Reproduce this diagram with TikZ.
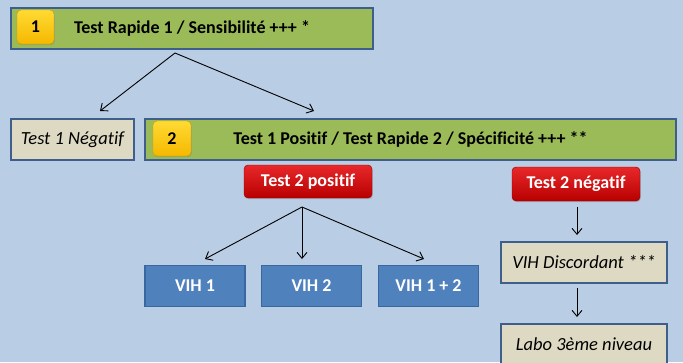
\documentclass[tikz,border=0pt]{standalone}
\usepackage{fontspec}
\setmainfont{Carlito}[RawFeature=-liga]
\usetikzlibrary{arrows.meta,shadows}
\definecolor{bgblue}{HTML}{B9CDE5}
\definecolor{boxgreen}{HTML}{9BBB59}
\definecolor{edgeblue}{HTML}{3E5F8C}
\definecolor{beige}{HTML}{DDD9C3}
\definecolor{vihblue}{HTML}{4F81BD}
\definecolor{vihedge}{HTML}{3A679E}
\definecolor{redtop}{HTML}{E8282A}
\definecolor{redbot}{HTML}{B80000}
\definecolor{yeltop}{HTML}{FFDA33}
\definecolor{yelbot}{HTML}{F5B800}
\tikzset{
  greenbox/.style={draw=edgeblue, line width=1.6pt, fill=boxgreen, font=\bfseries\fontsize{18}{20}\selectfont, inner sep=0pt},
  beigebox/.style={draw=edgeblue, line width=1.6pt, fill=beige, font=\itshape\fontsize{18.5}{20}\selectfont, inner sep=0pt},
  vihbox/.style={draw=vihedge, line width=1.2pt, fill=vihblue, text=white, font=\bfseries\fontsize{18}{20}\selectfont, inner sep=0pt, minimum width=100pt, minimum height=41pt},
  redbox/.style={rounded corners=4pt, top color=redtop, bottom color=redbot, draw=redbot!80!black, line width=0.4pt, text=white, font=\bfseries\fontsize{18}{20}\selectfont, inner sep=0pt, drop shadow={shadow xshift=0.8pt, shadow yshift=-1.2pt, opacity=0.35}},
  badge/.style={rounded corners=4pt, top color=yeltop, bottom color=yelbot, draw=yelbot!85!black, line width=0.4pt, font=\bfseries\fontsize{18}{20}\selectfont, inner sep=0pt, drop shadow={shadow xshift=0.8pt, shadow yshift=-1.2pt, opacity=0.35}},
  arr/.style={-{Straight Barb[length=6pt,width=10pt]}, line width=0.9pt, black}
}
\begin{document}
\begin{tikzpicture}[x=1pt,y=-1pt]
\useasboundingbox (0,0) rectangle (683,362);
\clip (0,0) rectangle (683,362);
\fill[bgblue] (0,0) rectangle (683,362);

% row 1
\node[greenbox, minimum width=362pt, minimum height=41pt] (t1) at (192,28.5) {Test Rapide 1 / Sensibilité +++ *};
\node[badge, minimum width=37pt, minimum height=34pt] (b1) at (35.5,27) {1};

% row 2
\node[beigebox, minimum width=123pt, minimum height=41pt] (neg1) at (72.5,139.5) {Test 1 Négatif};
\node[greenbox, minimum width=531pt, minimum height=41pt] (t2) at (410.5,139.5) {Test 1 Positif / Test Rapide 2 / Spécificité +++ **};
\node[badge, minimum width=38pt, minimum height=35pt] (b2) at (172,138.5) {2};

% red boxes
\node[redbox, minimum width=128pt, minimum height=33pt] (pos2) at (308,181.5) {Test 2 positif};
\node[redbox, minimum width=128pt, minimum height=34pt] (neg2) at (576,184) {Test 2 négatif};

% VIH boxes
\node[vihbox] (v1) at (195,286) {VIH 1};
\node[vihbox] (v2) at (311.5,286) {VIH 2};
\node[vihbox] (v12) at (428.5,286) {VIH 1 + 2};

% right column
\node[beigebox, minimum width=166pt, minimum height=41pt] (disc) at (584,262.5) {VIH Discordant ***};
\node[beigebox, minimum width=166pt, minimum height=44pt, anchor=north] (labo) at (584,323) {};
\node[font=\itshape\fontsize{18.5}{20}\selectfont] (labot) at (584,344) {Labo 3ème niveau};

% connector coordinates
\coordinate (s1) at (175,53);
\coordinate (e1a) at (100,111);
\coordinate (e1b) at (314,111);
\coordinate (s2) at (302,207);
\coordinate (e2a) at (205,259);
\coordinate (e2b) at (302,259);
\coordinate (e2c) at (424,259);
\coordinate (s3) at (577,207);
\coordinate (e3) at (577,235);
\coordinate (s4) at (577,288);
\coordinate (e4) at (577,317);

\draw[arr] (s1) -- (e1a);
\draw[arr] (s1) -- (e1b);
\draw[arr] (s2) -- (e2a);
\draw[arr] (s2) -- (e2b);
\draw[arr] (s2) -- (e2c);
\draw[arr] (s3) -- (e3);
\draw[arr] (s4) -- (e4);
\end{tikzpicture}
\end{document}
